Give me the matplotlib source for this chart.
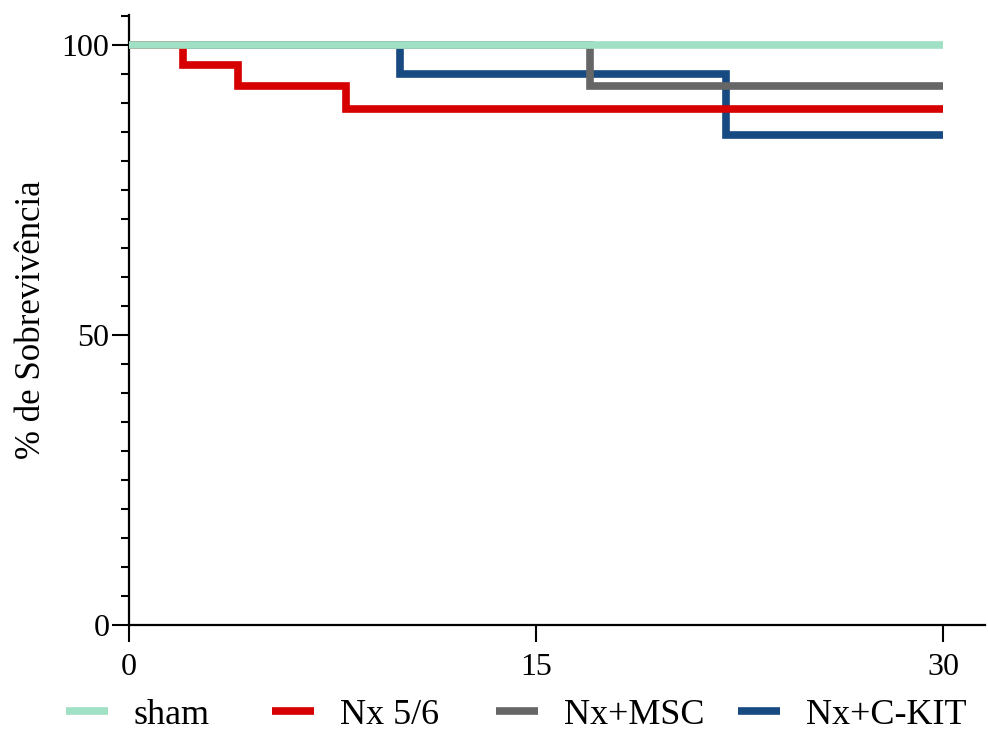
import matplotlib
matplotlib.use('Agg')
import matplotlib.pyplot as plt
from matplotlib.ticker import MultipleLocator

plt.rcParams['font.family'] = ['Liberation Serif', 'DejaVu Serif']

# survival curves (days vs % surviving)
groups = ['sham', 'Nx 5/6', 'Nx+MSC', 'Nx+C-KIT']
colors = ['#a0e0c4', '#d60000', '#666666', '#184a82']

sham_t = [0, 30]
sham_s = [100, 100]
nx_t = [0, 2, 4, 8, 30]
nx_s = [100, 96.4, 92.9, 88.9, 88.9]
msc_t = [0, 17, 30]
msc_s = [100, 92.9, 92.9]
ckit_t = [0, 10, 22, 30]
ckit_s = [100, 95.0, 84.4, 84.4]

times = [sham_t, nx_t, msc_t, ckit_t]
surv = [sham_s, nx_s, msc_s, ckit_s]
zorders = [5, 4, 3, 2]

# left edge of each legend entry (figure fraction)
legend_x = [66/988, 272/988, 496/988, 738/988]

fig = plt.figure(figsize=(9.88, 7.31), dpi=100)
ax = fig.add_axes([129/988, 1 - 625/731, (985 - 129)/988, (625 - 15)/731])

lines = []
for t, s, c, name, z in zip(times, surv, colors, groups, zorders):
    ln, = ax.step(t, s, where='post', color=c, lw=5.5, label=name,
                  solid_joinstyle='miter', solid_capstyle='butt', zorder=z)
    lines.append(ln)

ax.set_xlim(0, 31.55)
ax.set_ylim(0, 105.1)
ax.set_xticks([0, 15, 30])
ax.set_yticks([0, 50, 100])
ax.yaxis.set_minor_locator(MultipleLocator(5))

for side in ['top', 'right']:
    ax.spines[side].set_visible(False)
for side in ['left', 'bottom']:
    ax.spines[side].set_linewidth(1.6)

ax.tick_params(axis='both', which='major', length=12, width=1.5, labelsize=23)
ax.tick_params(axis='x', which='major', pad=8)
ax.tick_params(axis='y', which='major', pad=2)
ax.tick_params(axis='y', which='minor', length=6, width=1.5)

ax.set_ylabel('% de Sobrevivência', fontsize=25, labelpad=10)

# one legend per entry so the spacing can be set freely
for ln, name, lx in zip(lines, groups, legend_x):
    fig.legend(handles=[ln], labels=[name], loc='center left',
               bbox_to_anchor=(lx, 1 - 715/731), frameon=False, fontsize=26,
               handlelength=1.17, handletextpad=0.7, borderpad=0,
               borderaxespad=0)

fig.savefig('out.png', dpi=100)
